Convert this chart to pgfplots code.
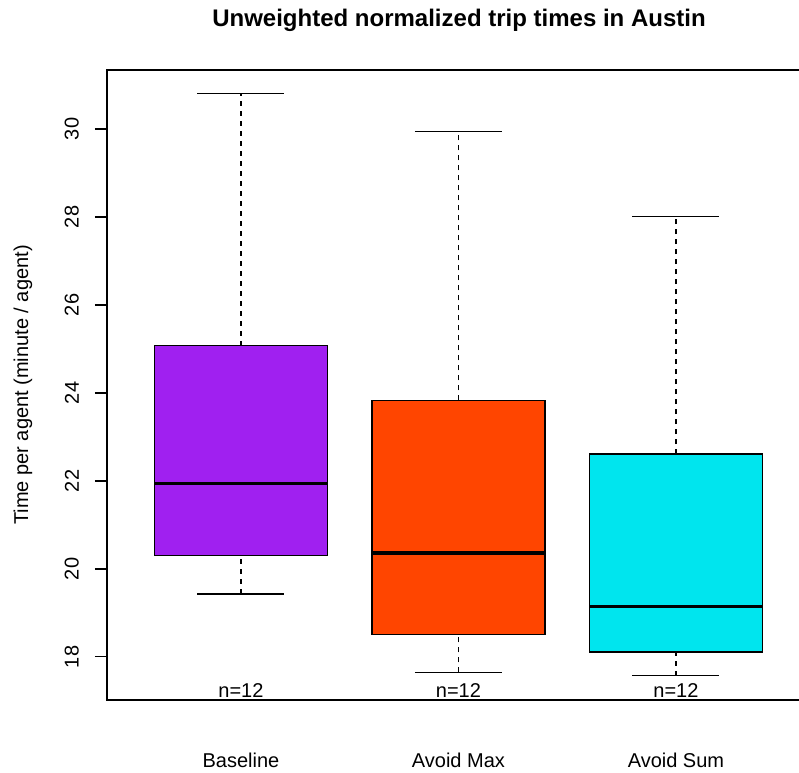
\documentclass[border=0pt]{standalone}
\usepackage{pgfplots}
\pgfplotsset{compat=1.18}
\usepackage{fontspec}
\setmainfont{Liberation Sans}
\definecolor{cpurple}{HTML}{A020F0}
\definecolor{corange}{HTML}{FF4500}
\definecolor{ccyan}{HTML}{00E5EE}
\pgfplotsset{
  boxedge/.style={draw=black, line width=1.2pt, mark=none},
  medline/.style={black, line width=3.2pt, mark=none},
  whisk/.style={black, line width=1.2pt, dash pattern=on 5pt off 5pt, mark=none},
  capline/.style={black, line width=1.2pt, mark=none},
}
\begin{document}
\begin{tikzpicture}[font=\fontsize{20}{24}\selectfont]
\begin{axis}[
  at={(107pt,72pt)}, anchor=south west,
  width=704pt, height=630pt, scale only axis,
  clip=false,
  xmin=0.384, xmax=3.621, ymin=17.02, ymax=31.34,
  axis line style={draw=none},
  ytick={18,20,22,24,26,28,30},
  xtick={1,2,3}, xticklabels={Baseline,Avoid Max,Avoid Sum},
  x tick style={draw=none},
  y tick style={black, line width=1.2pt},
  tick align=outside, major tick length=12pt,
  /pgf/number format/assume math mode=true,
  tick label style={font=\fontsize{20}{24}\selectfont},
  yticklabel style={rotate=90, anchor=south, inner sep=0pt},
  yticklabel shift=16pt,
  xticklabel style={anchor=north, inner sep=0pt},
  xticklabel shift=41pt,
  ylabel={Time per agent (minute / agent)},
  every axis y label/.style={at={(axis description cs:-0.1193,0.5)}, rotate=90, anchor=center, font=\fontsize{20}{24}\selectfont},
  title={Unweighted normalized trip times in Austin},
  every axis title/.style={at={(axis description cs:0.5,1)}, anchor=base, yshift=43pt, font=\bfseries\fontsize{24}{29}\selectfont},
]
% Baseline: lower whisker 19.43, Q1 20.30, median 21.95, Q3 25.07, upper whisker 30.81
\addplot[whisk] coordinates {(1,25.07) (1,30.81)};
\addplot[whisk] coordinates {(1,19.43) (1,20.30)};
\addplot[capline] coordinates {(0.8,30.81) (1.2,30.81)};
\addplot[capline] coordinates {(0.8,19.43) (1.2,19.43)};
\addplot[boxedge, fill=cpurple] coordinates {(0.6025,20.30) (1.3975,20.30) (1.3975,25.07) (0.6025,25.07)} -- cycle;
\addplot[medline] coordinates {(0.6025,21.95) (1.3975,21.95)};
% Avoid Max: 17.65, 18.50, 20.36, 23.83, 29.95
\addplot[whisk] coordinates {(2,23.83) (2,29.95)};
\addplot[whisk] coordinates {(2,17.65) (2,18.50)};
\addplot[capline] coordinates {(1.8,29.95) (2.2,29.95)};
\addplot[capline] coordinates {(1.8,17.65) (2.2,17.65)};
\addplot[boxedge, fill=corange] coordinates {(1.6025,18.50) (2.3975,18.50) (2.3975,23.83) (1.6025,23.83)} -- cycle;
\addplot[medline] coordinates {(1.6025,20.36) (2.3975,20.36)};
% Avoid Sum: 17.57, 18.11, 19.14, 22.61, 28.01
\addplot[whisk] coordinates {(3,22.61) (3,28.01)};
\addplot[whisk] coordinates {(3,17.57) (3,18.11)};
\addplot[capline] coordinates {(2.8,28.01) (3.2,28.01)};
\addplot[capline] coordinates {(2.8,17.57) (3.2,17.57)};
\addplot[boxedge, fill=ccyan] coordinates {(2.6025,18.11) (3.3975,18.11) (3.3975,22.61) (2.6025,22.61)} -- cycle;
\addplot[medline] coordinates {(2.6025,19.14) (3.3975,19.14)};
\draw[line width=1.2pt, black] (rel axis cs:1,1) -- (rel axis cs:0,1) -- (rel axis cs:0,0) -- (rel axis cs:1,0);
\node[anchor=base, inner sep=0pt] at (axis cs:1,17.08) {n=12};
\node[anchor=base, inner sep=0pt] at (axis cs:2,17.08) {n=12};
\node[anchor=base, inner sep=0pt] at (axis cs:3,17.08) {n=12};
\end{axis}
\pgfresetboundingbox
\useasboundingbox (0,0) rectangle (799pt,772pt);
\end{tikzpicture}
\end{document}
